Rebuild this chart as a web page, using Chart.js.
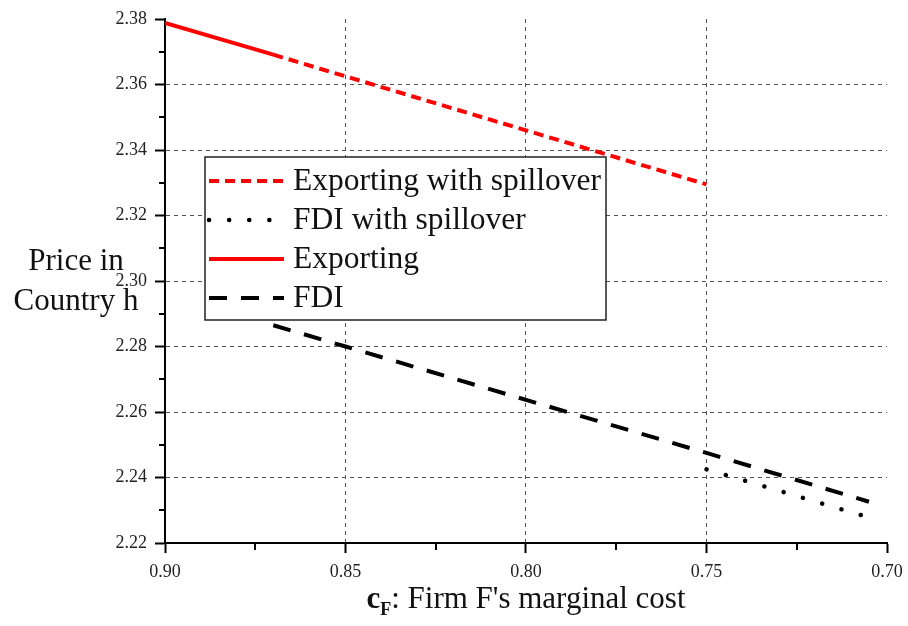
<!DOCTYPE html>
<html>
<head>
<meta charset="utf-8">
<script src="https://cdn.jsdelivr.net/npm/chart.js@4/dist/chart.umd.min.js"></script>
<style>
  html, body { margin: 0; padding: 0; background: #fff; }
  #wrap { width: 908px; height: 626px; }
</style>
</head>
<body>
<div id="wrap"><canvas id="chart" width="908" height="626"></canvas></div>
<script>
// data
const exportX = [0.90, 0.87];
const exportY = [2.3788, 2.3691];
const exportSpillX = [0.87, 0.85, 0.80, 0.75];
const exportSpillY = [2.3691, 2.3625, 2.3460, 2.3295];
const fdiX = [0.87, 0.85, 0.80, 0.75, 0.705];
const fdiY = [2.2865, 2.2800, 2.2637, 2.2475, 2.2326];
const fdiSpillX = [0.75, 0.705];
const fdiSpillY = [2.2425, 2.2278];

const xTicks = [0.90, 0.85, 0.80, 0.75, 0.70];
const yTicks = [2.22, 2.24, 2.26, 2.28, 2.30, 2.32, 2.34, 2.36, 2.38];
const xMinor = [0.875, 0.825, 0.775, 0.725];
const yMinor = [2.23, 2.25, 2.27, 2.29, 2.31, 2.33, 2.35, 2.37];

const SERIF = "'Liberation Serif', 'DejaVu Serif', serif";

function pts(xs, ys) {
  return xs.map((x, i) => ({ x: x, y: ys[i] }));
}

// draws minor ticks, axis titles and the boxed legend
const extras = {
  id: "extras",
  afterDatasetsDraw(chart) {
    const { ctx, chartArea, scales } = chart;
    const xs = scales.x, ys = scales.y;
    ctx.save();

    // minor ticks
    ctx.strokeStyle = "#000";
    ctx.lineWidth = 2;
    yMinor.forEach((v) => {
      const py = Math.round(ys.getPixelForValue(v));
      ctx.beginPath();
      ctx.moveTo(chartArea.left - 6, py);
      ctx.lineTo(chartArea.left, py);
      ctx.stroke();
    });
    xMinor.forEach((v) => {
      const px = Math.round(xs.getPixelForValue(v));
      ctx.beginPath();
      ctx.moveTo(px, chartArea.bottom);
      ctx.lineTo(px, chartArea.bottom + 7);
      ctx.stroke();
    });

    // legend box
    const box = { l: 205, t: 157, r: 606, b: 320 };
    ctx.fillStyle = "#fff";
    ctx.fillRect(box.l, box.t, box.r - box.l, box.b - box.t);
    ctx.strokeStyle = "#222";
    ctx.lineWidth = 1.5;
    ctx.strokeRect(box.l, box.t, box.r - box.l, box.b - box.t);

    const order = [1, 3, 0, 2];
    const rowY = [181, 220, 259, 298];
    ctx.font = "31.5px " + SERIF;
    ctx.textBaseline = "middle";
    ctx.textAlign = "left";
    order.forEach((di, i) => {
      const ds = chart.data.datasets[di];
      ctx.save();
      ctx.strokeStyle = ds.borderColor;
      ctx.lineWidth = ds.borderWidth;
      ctx.lineCap = ds.borderCapStyle || "butt";
      ctx.setLineDash(ds.borderDash || []);
      ctx.beginPath();
      ctx.moveTo(209, rowY[i]);
      ctx.lineTo(284, rowY[i]);
      ctx.stroke();
      ctx.restore();
      ctx.fillStyle = "#111";
      ctx.fillText(ds.label, 293, rowY[i] + 1);
    });

    // y axis title
    ctx.font = "31px " + SERIF;
    ctx.textAlign = "center";
    ctx.textBaseline = "alphabetic";
    ctx.fillText("Price in", 76, 270);
    ctx.fillText("Country h", 76, 310);

    // x axis title: c_F: Firm F's marginal cost
    const cx = (chartArea.left + chartArea.right) / 2;
    const base = 608;
    ctx.textAlign = "left";
    const bold = "bold 31px " + SERIF;
    const sub = "bold 18px " + SERIF;
    const reg = "31px " + SERIF;
    ctx.font = bold; const w1 = ctx.measureText("c").width;
    ctx.font = sub; const w2 = ctx.measureText("F").width;
    ctx.font = reg; const w3 = ctx.measureText(": Firm F's marginal cost").width;
    let x0 = cx - (w1 + w2 + w3) / 2;
    ctx.font = bold; ctx.fillText("c", x0, base);
    ctx.font = sub; ctx.fillText("F", x0 + w1, base + 7);
    ctx.font = reg; ctx.fillText(": Firm F's marginal cost", x0 + w1 + w2, base);

    ctx.restore();
  },
};

const gridColor = "#555";

new Chart(document.getElementById("chart"), {
  type: "line",
  data: {
    datasets: [
      {
        label: "Exporting",
        data: pts(exportX, exportY),
        borderColor: "#ff0000",
        borderWidth: 4,
        pointRadius: 0,
      },
      {
        label: "Exporting with spillover",
        data: pts(exportSpillX, exportSpillY),
        borderColor: "#ff0000",
        borderWidth: 4,
        borderDash: [10, 6],
        pointRadius: 0,
      },
      {
        label: "FDI",
        data: pts(fdiX, fdiY),
        borderColor: "#000",
        borderWidth: 4,
        borderDash: [18, 14],
        pointRadius: 0,
      },
      {
        label: "FDI with spillover",
        data: pts(fdiSpillX, fdiSpillY),
        borderColor: "#000",
        borderWidth: 4.5,
        borderDash: [0.1, 20],
        borderCapStyle: "round",
        pointRadius: 0,
      },
    ],
  },
  options: {
    responsive: false,
    animation: false,
    layout: { padding: { top: 19, right: 21, left: 0, bottom: 0 } },
    plugins: {
      legend: { display: false },
      tooltip: { enabled: false },
    },
    scales: {
      x: {
        type: "linear",
        reverse: true,
        min: 0.70,
        max: 0.90,
        afterBuildTicks: (scale) => {
          scale.ticks = xTicks.map((v) => ({ value: v }));
        },
        afterFit: (scale) => {
          scale.height = 83;
          scale.paddingLeft = 0;
          scale.paddingRight = 0;
        },
        ticks: {
          callback: (v) => Number(v).toFixed(2),
          color: "#222",
          padding: 8,
          maxRotation: 0,
          font: { family: SERIF, size: 18 },
        },
        grid: {
          color: (c) => (c.tick && (c.tick.value === 0.70 || c.tick.value === 0.90) ? "rgba(0,0,0,0)" : gridColor),
          lineWidth: 1,
          tickColor: "#000",
          tickWidth: 2,
          tickLength: 10,
        },
        border: { display: true, color: "#000", width: 2, dash: [4, 4] },
      },
      y: {
        type: "linear",
        min: 2.22,
        max: 2.38,
        afterBuildTicks: (scale) => {
          scale.ticks = yTicks.map((v) => ({ value: v }));
        },
        afterFit: (scale) => {
          scale.width = 165;
          scale.paddingTop = 0;
          scale.paddingBottom = 0;
        },
        ticks: {
          callback: (v) => Number(v).toFixed(2),
          color: "#222",
          padding: 8,
          font: { family: SERIF, size: 18 },
        },
        grid: {
          color: (c) => (c.tick && (c.tick.value === 2.38 || c.tick.value === 2.22) ? "rgba(0,0,0,0)" : gridColor),
          lineWidth: 1,
          tickColor: "#000",
          tickWidth: 2,
          tickLength: 10,
        },
        border: { display: true, color: "#000", width: 2, dash: [4, 4] },
      },
    },
  },
  plugins: [extras],
});
</script>
</body>
</html>
